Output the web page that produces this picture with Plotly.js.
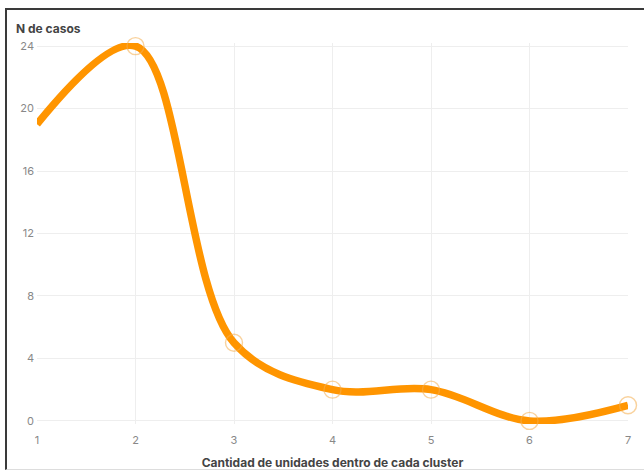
<!DOCTYPE html>
<html>
<head>
<meta charset="utf-8">
<script src="https://cdn.plot.ly/plotly-3.0.1.min.js"></script>
<style>
html,body{margin:0;padding:0;background:#fff;}
#wrap{position:relative;width:644px;height:473px;overflow:hidden;}
#chart{width:644px;height:473px;}
#frame{position:absolute;left:5px;top:8px;width:660px;height:462px;border-top:2px solid #3a3a3a;border-left:2px solid #3a3a3a;border-bottom:1px solid #ddd;pointer-events:none;box-sizing:border-box;}
</style>
</head>
<body>
<div id="wrap"><div id="chart"></div><div id="frame"></div></div>
<script>
const clusterSizes = [1, 2, 3, 4, 5, 6, 7];
const nCases = [19, 24, 5, 2, 2, 0, 1];
const markerSizes = [0, 17, 17, 17, 17, 17, 17];
const yTicks = [0, 4, 8, 12, 16, 20, 24];
const xTitle = 'Cantidad de unidades dentro de cada cluster';
const yTitle = 'N de casos';

const font = 'Inter, Roboto, "Noto Sans", sans-serif';

Plotly.newPlot('chart', [{
  x: clusterSizes,
  y: nCases,
  type: 'scatter',
  mode: 'lines+markers',
  line: {shape: 'spline', smoothing: 1, color: '#FF9500', width: 7.5},
  marker: {size: markerSizes, color: 'rgba(0,0,0,0)', line: {color: 'rgba(245,175,80,0.8)', width: 1.4}},
  cliponaxis: false,
  hoverinfo: 'skip'
}], {
  width: 644, height: 473,
  margin: {l: 37, r: 16, t: 43, b: 49},
  paper_bgcolor: '#fff', plot_bgcolor: '#fff',
  showlegend: false,
  font: {family: font, size: 11, color: '#777'},
  xaxis: {
    range: [1, 7], tickvals: clusterSizes, ticktext: clusterSizes.map(String),
    showgrid: true, gridcolor: '#eeeeee', gridwidth: 1, zeroline: false, showline: false,
    ticks: '', tickfont: {size: 11, color: '#888'}, ticklabelstandoff: 8,
    title: {text: xTitle, font: {family: font, size: 12, color: '#444', weight: 'bold'}, standoff: 12}
  },
  yaxis: {
    range: [-0.2, 24.2], tickvals: yTicks, ticktext: yTicks.map(String),
    showgrid: true, gridcolor: '#eeeeee', gridwidth: 1, zeroline: false, showline: false,
    ticks: '', tickfont: {size: 11, color: '#888'}, ticklabelstandoff: 2
  },
  annotations: [{
    text: '<b>' + yTitle + '</b>', xref: 'paper', yref: 'paper', x: 0, y: 1,
    xanchor: 'left', yanchor: 'middle', xshift: -23, yshift: 15, showarrow: false,
    font: {family: font, size: 12, color: '#444'}
  }]
}, {displayModeBar: false, staticPlot: true});
</script>
</body>
</html>
